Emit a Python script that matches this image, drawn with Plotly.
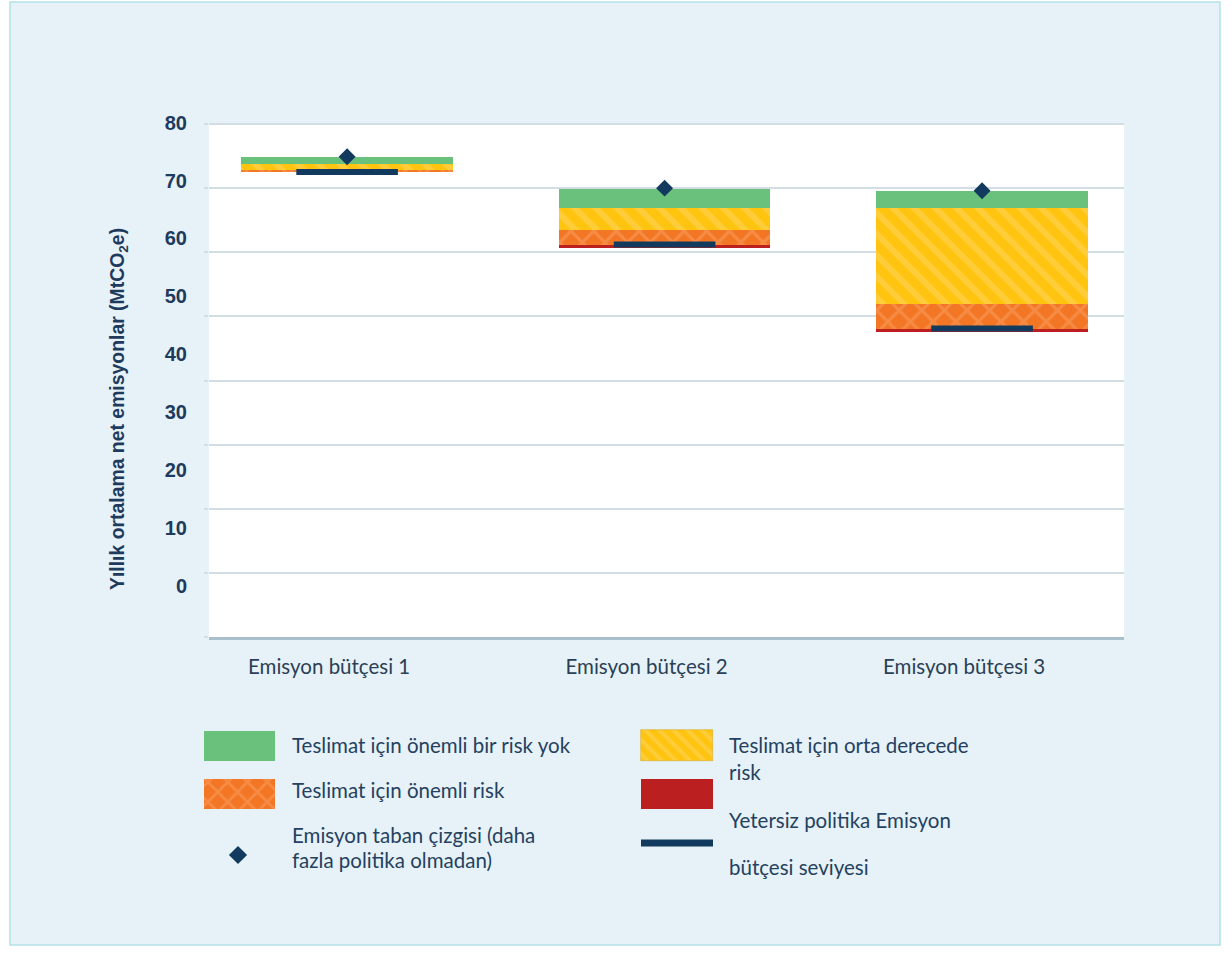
import numpy as np
import plotly.graph_objects as go

W, H = 1232, 961

# ---- data -------------------------------------------------------------
categories = ["Emisyon bütçesi 1", "Emisyon bütçesi 2", "Emisyon bütçesi 3"]
bar_floor = [72.6, 60.8, 47.6]            # lower edge of each stacked bar
insufficient_policy = [0.0, 0.3, 0.4]     # red segment
significant_risk = [0.3, 2.3, 3.9]        # orange segment
moderate_risk = [0.9, 3.55, 15.05]        # yellow segment
no_risk = [1.1, 2.95, 2.65]               # green segment
baseline = [74.9, 70.0, 69.6]             # emission baseline (diamond)
budget_level = [72.5, 61.2, 48.1]         # budget level line
y_ticks = [0, 10, 20, 30, 40, 50, 60, 70, 80]
y_tick_labels = ["0", "10", "20", "30", "40", "50", "60", "70", "80"]

# ---- styles -----------------------------------------------------------
NAVY = "#123a5e"
GREEN = "#6ac17b"
YELLOW = "#ffc40f"
YELLOW_LIGHT = "#ffd664"
ORANGE = "#f37625"
ORANGE_LIGHT = "#f9a064"
RED = "#bc1f1f"
TEXT = "#25415f"
AXIS_TEXT = "#1e3a5c"
GRID = "#d2dde4"
BOX_FILL = "#e6f2f8"
BOX_LINE = "#b4e2e6"

BAR_W = 0.667
LINE_HALF = 0.16

def px_x(p):
    return p / W

def px_y(p):
    return 1 - p / H

x_pos = np.arange(len(categories))
segments = [
    ("Yetersiz politika", insufficient_policy, dict(color=RED)),
    ("Teslimat için önemli risk", significant_risk,
     dict(color=ORANGE, pattern=dict(shape="x", fgcolor=ORANGE_LIGHT, bgcolor=ORANGE,
                                     size=16, solidity=0.35))),
    ("Teslimat için orta derecede risk", moderate_risk,
     dict(color=YELLOW, pattern=dict(shape="\\", fgcolor=YELLOW_LIGHT, bgcolor=YELLOW,
                                     size=15, solidity=0.4))),
    ("Teslimat için önemli bir risk yok", no_risk, dict(color=GREEN)),
]

fig = go.Figure()

base = np.array(bar_floor, dtype=float)
for name, vals, marker in segments:
    vals = np.array(vals, dtype=float)
    fig.add_trace(go.Bar(
        x=x_pos, y=vals, base=base, width=BAR_W, name=name,
        marker=dict(line=dict(width=0), **marker),
        xaxis="x", yaxis="y", showlegend=False,
    ))
    base = base + vals

# budget level lines across the middle of each bar
lx, ly = [], []
for i, v in zip(x_pos, budget_level):
    lx += [i - LINE_HALF, i + LINE_HALF, None]
    ly += [v, v, None]
fig.add_trace(go.Scatter(x=lx, y=ly, mode="lines", line=dict(color=NAVY, width=6),
                         xaxis="x", yaxis="y", showlegend=False, hoverinfo="skip"))

# baseline diamonds
fig.add_trace(go.Scatter(x=x_pos, y=baseline, mode="markers",
                         marker=dict(symbol="diamond", size=13, color=NAVY),
                         xaxis="x", yaxis="y", showlegend=False))

# empty carrier so the label axis is drawn
fig.add_trace(go.Scatter(x=[0], y=[0], mode="markers", marker=dict(size=1, opacity=0),
                         xaxis="x", yaxis="y2", showlegend=False, hoverinfo="skip"))

# ---- legend swatches (pixel-space helper axes) ------------------------
sw = dict(xaxis="x2", yaxis="y3", showlegend=False, hoverinfo="skip")
fig.add_trace(go.Bar(x=[239.5], y=[30], base=[731], width=71,
                     marker=dict(color=GREEN, line=dict(width=0)), **sw))
fig.add_trace(go.Bar(x=[239.5], y=[30], base=[779], width=71,
                     marker=dict(color=ORANGE, line=dict(width=0),
                                 pattern=dict(shape="x", fgcolor=ORANGE_LIGHT, bgcolor=ORANGE,
                                              size=14, solidity=0.35)), **sw))
fig.add_trace(go.Bar(x=[677], y=[31], base=[730], width=72,
                     marker=dict(color=YELLOW, line=dict(width=0.6, color="#d9a92a"),
                                 pattern=dict(shape="\\", fgcolor=YELLOW_LIGHT, bgcolor=YELLOW,
                                              size=10, solidity=0.4)), **sw))
fig.add_trace(go.Bar(x=[677], y=[30], base=[779], width=72,
                     marker=dict(color=RED, line=dict(width=0)), **sw))
fig.add_trace(go.Scatter(x=[238], y=[855], mode="markers",
                         marker=dict(symbol="diamond", size=14, color=NAVY), **sw))
fig.add_trace(go.Scatter(x=[641, 713], y=[843, 843], mode="lines",
                         line=dict(color=NAVY, width=7), **sw))

legend_texts = [
    (290, 745, "Teslimat için önemli bir risk yok"),
    (290, 790, "Teslimat için önemli risk"),
    (290, 835, "Emisyon taban çizgisi (daha"),
    (290, 860, "fazla politika olmadan)"),
    (727, 745, "Teslimat için orta derecede"),
    (727, 772, "risk"),
    (727, 820, "Yetersiz politika Emisyon"),
    (727, 867, "bütçesi seviyesi"),
]
annotations = [
    dict(x=x, y=y, xref="x2", yref="y3", text=t, showarrow=False,
         xanchor="left", yanchor="middle",
         font=dict(family="Lato", size=20.5, color=TEXT))
    for x, y, t in legend_texts
]
annotations.append(dict(
    x=px_x(118), y=px_y(409), xref="paper", yref="paper", textangle=-90,
    text="<b>Yıllık ortalama net emisyonlar (MtCO<sub>2</sub>e)</b>",
    showarrow=False, xanchor="center", yanchor="middle",
    font=dict(family="Liberation Sans", size=19.4, color=AXIS_TEXT),
))

# ---- layout -----------------------------------------------------------
PLOT_L, PLOT_R, PLOT_T, PLOT_B = 209, 1124, 118, 637
PX_PER_UNIT = (637 - 124) / 80.0
y_top = (PLOT_B - PLOT_T) / PX_PER_UNIT

# tick labels sit on their own scale beside the grid
LBL_PX_0, LBL_PX_80 = 585.7, 122.7
lbl_per_unit = (LBL_PX_0 - LBL_PX_80) / 80.0
y2_lo = -(PLOT_B - LBL_PX_0) / lbl_per_unit
y2_hi = (LBL_PX_0 - PLOT_T) / lbl_per_unit

fig.update_layout(
    width=W, height=H,
    margin=dict(l=0, r=0, t=0, b=0, autoexpand=False),
    paper_bgcolor="white",
    plot_bgcolor="rgba(0,0,0,0)",
    barmode="overlay",
    bargap=0,
    showlegend=False,
    xaxis=dict(
        domain=[px_x(PLOT_L), px_x(PLOT_R)], range=[-0.435, 2.447],
        tickmode="array", tickvals=list(x_pos), ticktext=categories,
        showgrid=False, zeroline=False, showline=True,
        linecolor="#a9c0cc", linewidth=2.5, ticks="",
        ticklabelshift=-18, ticklabelstandoff=10,
        tickfont=dict(family="Lato", size=20.5, color="#2b3f55"),
        anchor="y", fixedrange=True, automargin=False,
    ),
    yaxis=dict(
        domain=[px_y(PLOT_B), px_y(PLOT_T)], range=[0, y_top],
        tickmode="array", tickvals=y_ticks, showticklabels=False,
        showgrid=True, gridcolor=GRID, gridwidth=1.5,
        ticks="outside", ticklen=4, tickcolor=GRID, tickwidth=1.5,
        zeroline=False, showline=False, anchor="x", fixedrange=True,
        automargin=False,
    ),
    yaxis2=dict(
        overlaying="y", side="left", range=[y2_lo, y2_hi],
        tickmode="array", tickvals=y_ticks, ticktext=y_tick_labels,
        showgrid=False, zeroline=False, showline=False, ticks="",
        ticklabelstandoff=21,
        tickfont=dict(family="Liberation Sans", size=20, color=AXIS_TEXT, weight="bold"),
        anchor="x", fixedrange=True, automargin=False,
    ),
    xaxis2=dict(domain=[0, 1], range=[0, W], visible=False, anchor="y3",
                fixedrange=True, automargin=False),
    yaxis3=dict(domain=[0, 1], range=[H, 0], visible=False, anchor="x2",
                fixedrange=True, automargin=False),
    shapes=[
        dict(type="rect", xref="paper", yref="paper",
             x0=px_x(10), x1=px_x(1220), y0=px_y(945), y1=px_y(2),
             fillcolor=BOX_FILL, line=dict(color=BOX_LINE, width=1.5), layer="below"),
        dict(type="rect", xref="x domain", yref="y", x0=0, x1=1, y0=0, y1=80,
             fillcolor="white", line=dict(width=0), layer="below"),
    ],
    annotations=annotations,
)

fig.write_html("out.html")
